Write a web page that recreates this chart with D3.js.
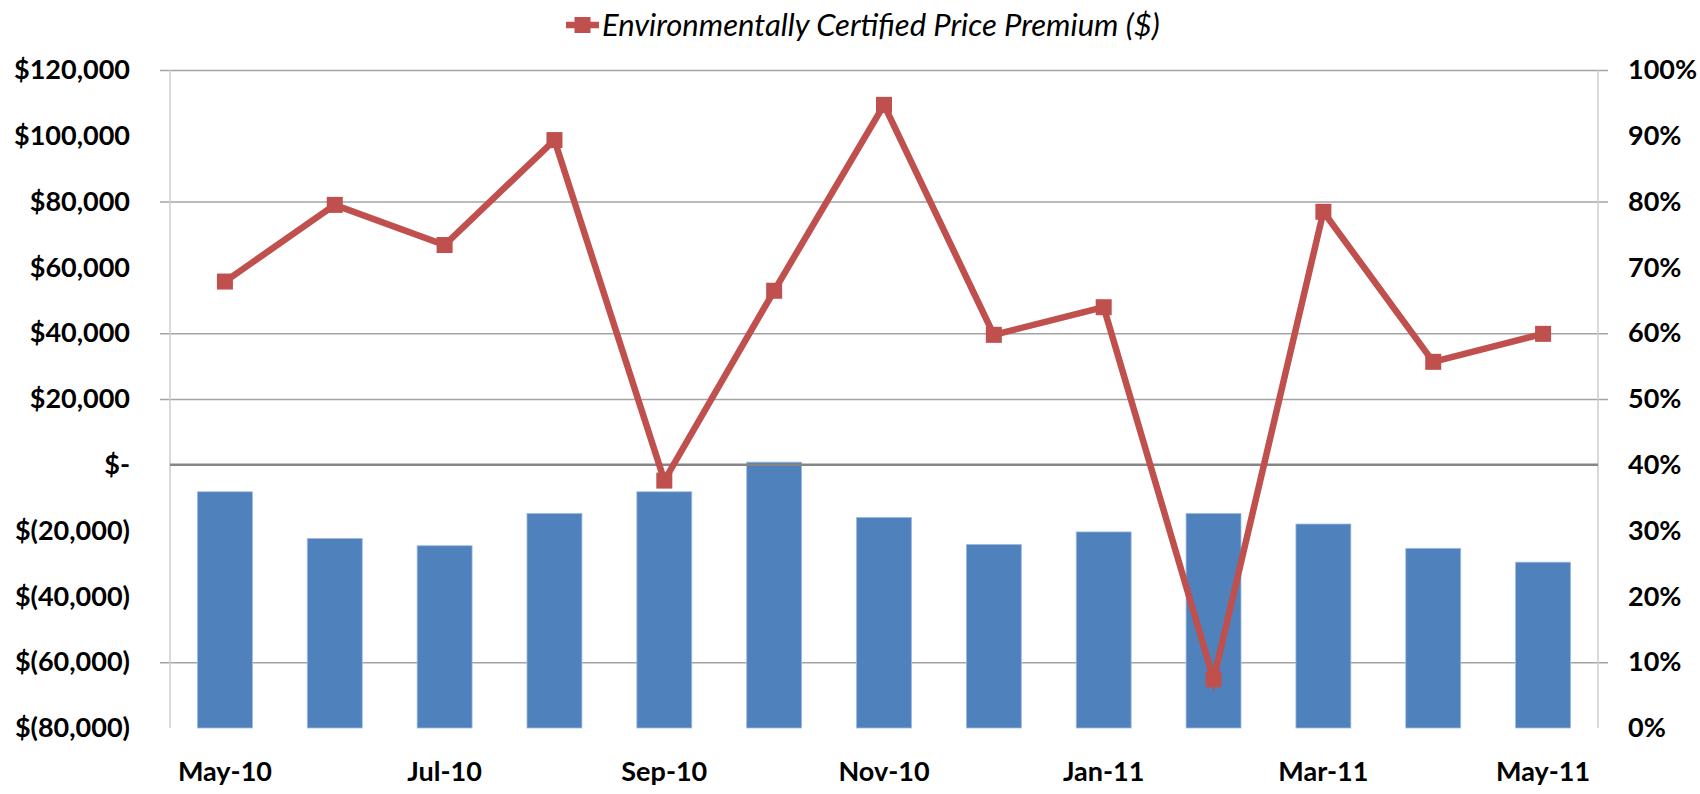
<!DOCTYPE html>
<html>
<head>
<meta charset="utf-8">
<script src="https://cdn.jsdelivr.net/npm/d3@7"></script>
<style>
  html, body { margin: 0; padding: 0; background: #fff; }
  svg { display: block; }
  text { font-family: Lato, "Open Sans", sans-serif; fill: #000; }
</style>
</head>
<body>
<svg id="chart" width="1700" height="794"></svg>
<script>
const categories = ["May-10","Jun-10","Jul-10","Aug-10","Sep-10","Oct-10","Nov-10","Dec-10","Jan-11","Feb-11","Mar-11","Apr-11","May-11"];
const premium = [55700, 79000, 66800, 98700, -4800, 52900, 109400, 39500, 47900, -65200, 76900, 31300, 39800];
const sharePct = [35.9, 28.8, 27.7, 32.6, 35.9, 40.4, 32.0, 27.9, 29.8, 32.6, 31.0, 27.3, 25.2];
const leftTicks = [120000, 100000, 80000, 60000, 40000, 20000, 0, -20000, -40000, -60000, -80000];
const leftTickLabels = ["$120,000","$100,000","$80,000","$60,000","$40,000","$20,000","$-","$(20,000)","$(40,000)","$(60,000)","$(80,000)"];
const rightTicks = [100, 90, 80, 70, 60, 50, 40, 30, 20, 10, 0];
const rightTickLabels = ["100%","90%","80%","70%","60%","50%","40%","30%","20%","10%","0%"];
const xTickLabels = ["May-10","Jul-10","Sep-10","Nov-10","Jan-11","Mar-11","May-11"];
const gridLevels = [120000, 80000, 40000, 20000, -60000];
const legendLabel = "Environmentally Certified Price Premium ($)";

const svg = d3.select("#chart");
const L = 170, R = 1598, T = 70, B = 728;

const x = d3.scaleBand().domain(categories).range([L, R]).paddingInner(0.5).paddingOuter(0.25);
const yL = d3.scaleLinear().domain([-80000, 120000]).range([B, T]);
const yR = d3.scaleLinear().domain([0, 100]).range([B, T]);

// gridlines
const grid = svg.append("g")
  .call(d3.axisLeft(yL).tickValues(gridLevels).tickSize(-(R - L) - 20).tickFormat(""))
  .attr("transform", `translate(${R + 10},0)`);
grid.select(".domain").remove();
grid.selectAll("line").attr("stroke", "#a3a3a3").attr("stroke-width", 1.5).attr("x1", 0).attr("x2", -(R - L) - 20);

// vertical axis lines
svg.append("line").attr("x1", L).attr("x2", L).attr("y1", T).attr("y2", B).attr("stroke", "#cccccc").attr("stroke-width", 1.5);
svg.append("line").attr("x1", R).attr("x2", R).attr("y1", T).attr("y2", B).attr("stroke", "#cccccc").attr("stroke-width", 1.5);

// bars
svg.append("g").selectAll("rect").data(categories).join("rect")
  .attr("x", d => x(d))
  .attr("width", x.bandwidth())
  .attr("y", (d, i) => yR(sharePct[i]))
  .attr("height", (d, i) => yR(0) - yR(sharePct[i]))
  .attr("fill", "#4f81bd")
  .attr("stroke", "#9dbbe0").attr("stroke-width", 0.8);

// zero line
svg.append("line").attr("x1", L).attr("x2", R).attr("y1", yL(0)).attr("y2", yL(0))
  .attr("stroke", "#858585").attr("stroke-width", 2.6);

// line series
const cx = d => x(d) + x.bandwidth() / 2;
const line = d3.line().x((d, i) => cx(categories[i])).y(d => yL(d));
svg.append("path").datum(premium).attr("d", line)
  .attr("fill", "none").attr("stroke", "#c0504d").attr("stroke-width", 6.5).attr("stroke-linejoin", "miter");
svg.append("g").selectAll("rect").data(premium).join("rect")
  .attr("x", (d, i) => cx(categories[i]) - 8)
  .attr("y", d => yL(d) - 8)
  .attr("width", 16).attr("height", 16)
  .attr("fill", "#c0504d");

// left axis labels
const la = svg.append("g").attr("transform", `translate(${L},0)`)
  .call(d3.axisLeft(yL).tickValues(leftTicks).tickSize(0).tickPadding(40).tickFormat((d, i) => leftTickLabels[i]));
la.select(".domain").remove();
la.selectAll("text").attr("font-size", 27).attr("font-weight", "bold").attr("font-family", "Lato, sans-serif").attr("fill", "#000");

// right axis labels
const ra = svg.append("g").attr("transform", `translate(${R},0)`)
  .call(d3.axisRight(yR).tickValues(rightTicks).tickSize(0).tickPadding(30).tickFormat((d, i) => rightTickLabels[i]));
ra.select(".domain").remove();
ra.selectAll("text").attr("font-size", 27).attr("font-weight", "bold").attr("font-family", "Lato, sans-serif").attr("fill", "#000");

// x axis labels
const xa = svg.append("g").attr("transform", `translate(0,${B})`)
  .call(d3.axisBottom(x).tickValues(xTickLabels).tickSize(0).tickPadding(34));
xa.select(".domain").remove();
xa.selectAll("text").attr("font-size", 27).attr("font-weight", "bold").attr("font-family", "Lato, sans-serif").attr("fill", "#000");

// legend
const lg = svg.append("g").attr("transform", "translate(566,25)");
lg.append("line").attr("x1", 0).attr("x2", 33).attr("y1", 0).attr("y2", 0).attr("stroke", "#c0504d").attr("stroke-width", 6.5);
lg.append("rect").attr("x", 8.5).attr("y", -8).attr("width", 16).attr("height", 16).attr("fill", "#c0504d");
lg.append("text").attr("x", 36).attr("y", 0).attr("dy", "0.35em")
  .attr("font-size", 31).attr("font-style", "italic").attr("fill", "#111").text(legendLabel);
</script>
</body>
</html>
